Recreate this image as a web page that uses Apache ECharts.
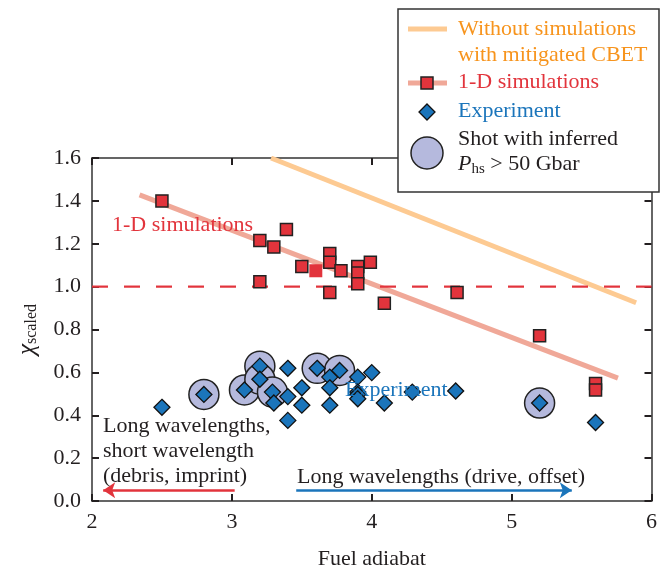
<!DOCTYPE html>
<html>
<head>
<meta charset="utf-8">
<script src="https://cdn.jsdelivr.net/npm/echarts@6/dist/echarts.min.js"></script>
<style>html,body{margin:0;padding:0;background:#fff}#c{width:660px;height:575px}</style>
</head>
<body>
<div id="c"></div>
<script>
// ---- data ----
var xTicks = [2, 3, 4, 5, 6];
var yTicks = ['0.0','0.2','0.4','0.6','0.8','1.0','1.2','1.4','1.6'];
// 1-D simulations (x = fuel adiabat, y = chi scaled)
var simPoints = [
  [2.5,1.40],[3.2,1.215],[3.3,1.185],[3.39,1.266],[3.2,1.023],[3.5,1.094],
  [3.7,1.155],[3.7,1.114],[3.7,0.973],[3.78,1.074],[3.9,1.094],[3.9,1.064],
  [3.9,1.013],[3.99,1.114],[4.09,0.922],[4.61,0.973],[5.2,0.771],[5.6,0.548],[5.6,0.518]
];
var simPointsNoEdge = [[3.6,1.074]];
// Experiment
var expPoints = [
  [2.5,0.437],[2.8,0.497],[3.09,0.518],[3.2,0.629],[3.2,0.568],[3.29,0.508],[3.3,0.457],
  [3.4,0.619],[3.4,0.487],[3.4,0.376],[3.5,0.528],[3.5,0.447],[3.61,0.619],[3.7,0.578],
  [3.7,0.528],[3.7,0.447],[3.77,0.609],[3.9,0.578],[3.9,0.508],[3.9,0.497],[3.9,0.477],
  [4.0,0.599],[4.09,0.457],[4.29,0.508],[4.6,0.513],[5.2,0.457],[5.6,0.366]
];
// Shots with inferred P_hs > 50 Gbar
var highPressure = [
  [2.8,0.497],[3.09,0.518],[3.2,0.629],[3.2,0.568],[3.29,0.508],[3.61,0.619],[3.77,0.609],[5.2,0.457]
];
// Trend lines
var withoutSimLine = [[3.28,1.60],[5.89,0.925]];
var simFitLine = [[2.34,1.428],[5.76,0.573]];
var unityLine = [[2,1.0],[6,1.0]];
// Arrows (annotations)
var shortArrow = [[3.02,0.05],[2.08,0.05]];
var longArrow = [[3.46,0.05],[5.43,0.05]];

var FONT = '"Liberation Serif","DejaVu Serif",serif';
var FS = 22;
var RED = '#e2343c', BLUE = '#1b75bb', ORANGE = '#f7941d', INK = '#231f20';
var FRAME = '#333';

var chart = echarts.init(document.getElementById('c'));

function axisCommon() {
  return {
    axisLine: {show: true, onZero: false, lineStyle: {color: FRAME, width: 1.5}},
    axisTick: {show: true, inside: true, length: 7, lineStyle: {color: INK, width: 2}},
    splitLine: {show: false}
  };
}

var option = {
  animation: false,
  backgroundColor: '#fff',
  grid: {left: 92, right: 5, top: 158, bottom: 71},
  xAxis: [
    Object.assign({type: 'value', min: 2, max: 6, interval: 1, position: 'bottom',
      name: 'Fuel adiabat', nameLocation: 'middle', nameGap: 47,
      nameTextStyle: {color: INK, fontFamily: FONT, fontSize: FS},
      axisLabel: {show: true, color: INK, fontFamily: FONT, fontSize: FS, margin: 10,
        formatter: function (v) { return xTicks.indexOf(v) >= 0 ? String(v) : ''; }}}, axisCommon()),
    Object.assign({type: 'value', min: 2, max: 6, interval: 1, position: 'top', axisLabel: {show: false}}, axisCommon())
  ],
  yAxis: [
    Object.assign({type: 'value', min: 0, max: 1.6, interval: 0.2, position: 'left',
      name: '{c|χ}{s|scaled}', nameLocation: 'middle', nameGap: 52, nameRotate: 90,
      nameTextStyle: {color: INK, fontFamily: FONT, fontSize: FS,
        rich: {c: {fontFamily: FONT, fontSize: 25, fontStyle: 'italic', color: INK},
               s: {fontFamily: FONT, fontSize: 16, color: INK, verticalAlign: 'bottom', padding: [9,0,0,0]}}},
      axisLabel: {show: true, color: INK, fontFamily: FONT, fontSize: FS, margin: 11,
        formatter: function (v) { return yTicks[Math.round(v / 0.2)] || ''; }}},
      axisCommon()),
    Object.assign({type: 'value', min: 0, max: 1.6, interval: 0.2, position: 'right', axisLabel: {show: false}}, axisCommon())
  ],
  series: [
    {type: 'line', data: withoutSimLine, symbol: 'none', silent: true, z: 2,
      lineStyle: {color: '#fdca92', width: 5}},
    {type: 'line', data: simFitLine, symbol: 'none', silent: true, z: 2,
      lineStyle: {color: '#f0a898', width: 5}},
    {type: 'line', data: unityLine, symbol: 'none', silent: true, z: 2,
      lineStyle: {color: RED, width: 2.2, type: [16, 16]}},
    {type: 'lines', coordinateSystem: 'cartesian2d', silent: true, z: 2,
      symbol: ['none', 'arrow'], symbolSize: 12,
      lineStyle: {color: RED, width: 2.5, opacity: 1, curveness: 0},
      data: [{coords: shortArrow}]},
    {type: 'lines', coordinateSystem: 'cartesian2d', silent: true, z: 2,
      symbol: ['none', 'arrow'], symbolSize: 12,
      lineStyle: {color: BLUE, width: 2.5, opacity: 1, curveness: 0},
      data: [{coords: longArrow}]},
    {type: 'scatter', data: highPressure, symbol: 'circle', symbolSize: 30, z: 3,
      itemStyle: {color: '#b5b9dd', borderColor: '#222', borderWidth: 1.5, opacity: 1}},
    {type: 'scatter', data: expPoints, symbol: 'diamond', symbolSize: [16, 16], z: 4,
      itemStyle: {color: BLUE, borderColor: '#111', borderWidth: 1.3, opacity: 1}},
    {type: 'scatter', data: simPoints, symbol: 'rect', symbolSize: 12, z: 5,
      itemStyle: {color: RED, borderColor: '#222', borderWidth: 1.5, opacity: 1}},
    {type: 'scatter', data: simPointsNoEdge, symbol: 'rect', symbolSize: 13, z: 5,
      itemStyle: {color: RED, opacity: 1}}
  ],
  graphic: [
    // in-plot annotations
    {type: 'text', left: 112, top: 214, z: 10, style: {text: '1-D simulations', fill: RED, font: FS + 'px ' + FONT}},
    {type: 'text', left: 345, top: 379, z: 10, style: {text: 'Experiment', fill: BLUE, font: FS + 'px ' + FONT}},
    {type: 'text', left: 103, top: 414, z: 10, style: {text: 'Long wavelengths,\nshort wavelength\n(debris, imprint)', fill: INK, font: FS + 'px ' + FONT, lineHeight: 25}},
    {type: 'text', left: 297, top: 466, z: 10, style: {text: 'Long wavelengths (drive, offset)', fill: INK, font: FS + 'px ' + FONT}},
    // legend box
    {type: 'rect', shape: {x: 398, y: 9, width: 261, height: 183}, z: 20,
      style: {fill: '#fff', stroke: '#333', lineWidth: 1.5}},
    {type: 'line', shape: {x1: 408, y1: 29, x2: 447, y2: 29}, z: 21, style: {stroke: '#fdca92', lineWidth: 5}},
    {type: 'text', left: 458, top: 16, z: 21, style: {text: 'Without simulations\nwith mitigated CBET', fill: ORANGE, font: FS + 'px ' + FONT, lineHeight: 26}},
    {type: 'line', shape: {x1: 408, y1: 83, x2: 447, y2: 83}, z: 21, style: {stroke: '#f0a898', lineWidth: 5}},
    {type: 'rect', shape: {x: 421, y: 77, width: 12, height: 12}, z: 22, style: {fill: RED, stroke: '#222', lineWidth: 1.5}},
    {type: 'text', left: 458, top: 71, z: 21, style: {text: '1-D simulations', fill: RED, font: FS + 'px ' + FONT}},
    {type: 'polygon', shape: {points: [[427, 104], [435, 112], [427, 120], [419, 112]]}, z: 21,
      style: {fill: BLUE, stroke: '#111', lineWidth: 1.3}},
    {type: 'text', left: 458, top: 100, z: 21, style: {text: 'Experiment', fill: BLUE, font: FS + 'px ' + FONT}},
    {type: 'circle', shape: {cx: 427, cy: 153, r: 16}, z: 21, style: {fill: '#b5b9dd', stroke: '#222', lineWidth: 1.5}},
    {type: 'text', left: 458, top: 128, z: 21, style: {text: 'Shot with inferred', fill: INK, font: FS + 'px ' + FONT}},
    {type: 'text', left: 458, top: 153, z: 21, style: {
      text: '{p|P}{s|hs}{n| > 50 Gbar}',
      rich: {p: {fontFamily: FONT, fontSize: FS, fontStyle: 'italic', fill: INK},
             s: {fontFamily: FONT, fontSize: 15, fill: INK, padding: [11, 0, 0, 0]},
             n: {fontFamily: FONT, fontSize: FS, fill: INK}}}}
  ]
};
chart.setOption(option);
</script>
</body>
</html>
